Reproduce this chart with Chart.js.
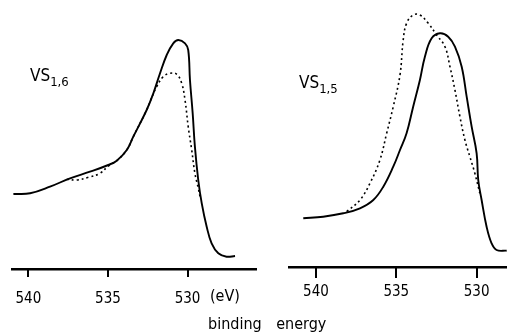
<!DOCTYPE html>
<html>
<head>
<meta charset="utf-8">
<script src="https://cdn.jsdelivr.net/npm/chart.js@4"></script>
<style>
    html, body { margin: 0; padding: 0; background: #fff; }
    #wrap { position: relative; width: 507px; height: 334px; overflow: hidden;
            font-family: 'DejaVu Sans Condensed', 'DejaVu Sans', sans-serif; color: #000; }
    canvas { position: absolute; }
    .lbl { position: absolute; white-space: pre; line-height: 1; }
    .lbl sub { font-size: 13px; vertical-align: -5px; }
</style>
</head>
<body>
<div id="wrap">
    <canvas id="leftChart" width="246" height="309" style="left:11px; top:0px;"></canvas>
    <canvas id="rightChart" width="219" height="307" style="left:288px; top:0px;"></canvas>
    <div class="lbl" style="left:30px; top:67px; font-size:17px;">VS<sub>1,6</sub></div>
    <div class="lbl" style="left:299px; top:74px; font-size:17px;">VS<sub>1,5</sub></div>
    <div class="lbl" style="left:210px; top:288px; font-size:16px;">(eV)</div>
    <div class="lbl" style="left:208px; top:316px; font-size:16px; word-spacing:10px;">binding energy</div>
</div>
<script>
// tick labels on both energy axes
const xTicks = [540, 535, 530];

// VS1,6 panel, solid curve (binding energy in eV, intensity in arb. units)
const leftEnergy = [540.94, 539.89, 538.64, 537.38, 536.13, 534.98, 534.45, 533.82, 533.41, 532.57,
    532.15, 531.73, 531.31, 530.90, 530.58, 530.16, 529.96, 529.85, 529.68, 529.54,
    529.33, 529.11, 528.80, 528.49, 528.07, 527.55, 527.02];
const leftSolid = [74, 74.7, 81.3, 89.7, 96.3, 103, 107.3, 118, 131.3, 158,
    174.7, 194.7, 213, 224.7, 228, 224.7, 218, 188, 154.7, 121.3,
    88, 64.7, 41.3, 24.7, 14.7, 11.3, 12];

// VS1,6 panel, dotted curve
const leftDottedEnergy = [537.59, 536.96, 536.23, 535.50, 534.98, 534.45, 533.82, 533.41, 532.57,
    532.36, 531.94, 531.53, 531.11, 530.68, 530.37, 530.16, 529.96, 529.74, 529.54, 529.33, 529.2];
const leftDotted = [88.7, 88, 90.7, 94.7, 102, 107.3, 118, 131.3, 158,
    166.3, 181.3, 191.3, 194.7, 193.7, 184.7, 168, 141.3, 118, 94.7, 80, 70];

// VS1,5 panel, solid curve
const rightEnergy = [540.79, 539.55, 538.30, 537.26, 536.43, 535.81, 535.19, 534.77, 534.36, 533.95,
    533.53, 533.22, 532.80, 532.28, 531.77, 531.35, 530.93, 530.62, 530.31, 530.00,
    529.90, 529.69, 529.38, 529.07, 528.76, 528.13];
const rightSolid = [47.7, 49.3, 52.7, 57.7, 66, 79.3, 99.3, 116, 132.7, 159.3,
    186, 209.3, 227.7, 232.7, 229.3, 219.3, 199.3, 169.3, 139.3, 112.7,
    86, 66, 39.3, 22.7, 16, 15.3];

// VS1,5 panel, dotted curve
const rightDottedEnergy = [538.09, 537.26, 536.64, 536.02, 535.60, 535.19, 534.77, 534.57, 534.36,
    533.95, 533.53, 533.01, 532.49, 531.97, 531.66, 531.35, 531.04, 530.73, 530.42, 530.11, 529.80];
const rightDotted = [54.3, 66, 82.7, 106, 132.7, 159.3, 191, 226, 242.7,
    251, 251, 242.7, 231, 219.3, 199.3, 176, 149.3, 126, 109.3, 92.7, 72.7];

function toPoints(xs, ys) {
    return xs.map((x, i) => ({ x: x, y: ys[i] }));
}

// short tick marks hanging below the axis line
function tickMarks(markLen) {
    return {
        id: 'tickMarks',
        afterDraw(chart) {
            const scale = chart.scales.x;
            const base = chart.chartArea.bottom;
            const c = chart.ctx;
            c.save();
            c.fillStyle = '#000';
            xTicks.forEach(v => {
                const px = scale.getPixelForValue(v);
                c.fillRect(Math.round(px) - 1, base, 2, markLen);
            });
            c.restore();
        }
    };
}

function makePanel(id, solid, dotted, cfg) {
    const ctx = document.getElementById(id).getContext('2d');
    return new Chart(ctx, {
        type: 'line',
        data: {
            datasets: [
                {
                    label: 'dotted',
                    data: dotted,
                    borderColor: '#000',
                    borderWidth: 1.6,
                    borderDash: [2, 3],
                    pointRadius: 0,
                    fill: false,
                    tension: 0.4
                },
                {
                    label: 'solid',
                    data: solid,
                    borderColor: '#000',
                    borderWidth: 1.9,
                    pointRadius: 0,
                    fill: false,
                    tension: 0.4
                }
            ]
        },
        options: {
            responsive: false,
            animation: false,
            layout: { padding: 0 },
            plugins: {
                legend: { display: false },
                tooltip: { enabled: false }
            },
            scales: {
                x: {
                    type: 'linear',
                    reverse: true,
                    min: cfg.xMin,
                    max: cfg.xMax,
                    afterBuildTicks: (scale) => {
                        scale.ticks = xTicks.map(v => ({ value: v }));
                    },
                    afterFit: (scale) => {
                        scale.height = 40;
                        scale.paddingLeft = 0;
                        scale.paddingRight = 0;
                    },
                    border: { display: true, color: '#000', width: 2.5 },
                    grid: { display: false },
                    ticks: {
                        color: '#000',
                        padding: cfg.tickPadding,
                        maxRotation: 0,
                        font: { family: "'DejaVu Sans Condensed', 'DejaVu Sans'", size: 15 },
                        callback: (v) => String(v)
                    }
                },
                y: {
                    display: false,
                    min: -1,
                    max: cfg.yMax
                }
            }
        },
        plugins: [tickMarks(cfg.markLen)]
    });
}

makePanel('leftChart', toPoints(leftEnergy, leftSolid), toPoints(leftDottedEnergy, leftDotted),
    { xMin: 525.64, xMax: 541.09, yMax: 268, markLen: 8, tickPadding: 13 });
makePanel('rightChart', toPoints(rightEnergy, rightSolid), toPoints(rightDottedEnergy, rightDotted),
    { xMin: 528.11, xMax: 541.74, yMax: 266, markLen: 11, tickPadding: 8 });
</script>
</body>
</html>
